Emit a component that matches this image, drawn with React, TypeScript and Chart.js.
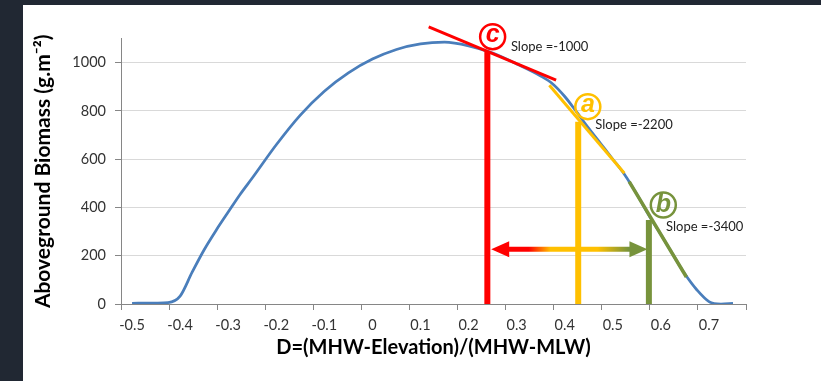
import React, { useEffect, useRef } from 'react';
import { Chart, registerables } from 'chart.js';

Chart.register(...registerables);

// ---- data ----
const xTickLabels = ['-0.5', '-0.4', '-0.3', '-0.2', '-0.1', '0', '0.1', '0.2', '0.3', '0.4', '0.5', '0.6', '0.7'];
const yTickValues = [0, 200, 400, 600, 800, 1000];

const curveD = [-0.5, -0.45, -0.425, -0.4, -0.375, -0.35, -0.325, -0.3, -0.275, -0.25, -0.2, -0.15, -0.1, -0.05, 0, 0.05, 0.1, 0.15, 0.2, 0.25, 0.3, 0.35, 0.375, 0.4, 0.425, 0.45, 0.475, 0.5, 0.525, 0.55, 0.575, 0.6, 0.625, 0.65, 0.675, 0.7, 0.725, 0.75];
const curveBiomass = [3, 4, 6, 33, 132, 225, 306, 381, 455, 522, 660, 783, 882, 958, 1015, 1055, 1078, 1085, 1070, 1040, 995, 945, 912, 860, 795, 728, 664, 600, 535, 455, 368, 288, 205, 124, 58, 10, 0, 3];

const markerLetters = ['c', 'a', 'b'];
const markerD = [0.239, 0.428, 0.575];
const markerTop = [1045, 755, 348];
const circleD = [0.25, 0.448, 0.605];
const circleBiomass = [1108, 818, 410];

const slopeLabels = ['Slope =-1000', 'Slope =-2200', 'Slope =-3400'];
const slopeLabelD = [0.288, 0.4636, 0.6106];
const slopeLabelBiomass = [1065, 742, 320];

const tangentCD = [0.117, 0.382];
const tangentCBiomass = [1149, 928];
const tangentAD = [0.368, 0.524];
const tangentABiomass = [907, 542];
const tangentBD = [0.534, 0.653];
const tangentBBiomass = [507, 112];

const arrowD = [0.247, 0.572];
const arrowBiomass = 227;

// ---- styles ----
const X_MIN = -0.523;
const X_MAX = 0.777;
const Y_MAX = 1100;
const BLUE = '#4a7ebb';
const RED = '#ff0000';
const YELLOW = '#ffc000';
const GREEN = '#77933c';
const AXIS = '#868686';
const GRID = '#d9d9d9';
const FONT = 'Lato, "Open Sans", sans-serif';
const markerColors = [RED, YELLOW, GREEN];

const pts = (xs: number[], ys: number[]) => xs.map((x, i) => ({ x, y: ys[i] }));

const annotationPlugin = {
  id: 'annotations',
  beforeDatasetsDraw(chart: any) {
    const { ctx, scales } = chart;
    const xs = scales.x;
    const ys = scales.y;
    const x0 = xs.getPixelForValue(arrowD[0]);
    const x1 = xs.getPixelForValue(arrowD[1]);
    const yy = ys.getPixelForValue(arrowBiomass);
    const grad = ctx.createLinearGradient(x0, 0, x1, 0);
    grad.addColorStop(0, RED);
    grad.addColorStop(0.24, RED);
    grad.addColorStop(0.38, YELLOW);
    grad.addColorStop(0.68, YELLOW);
    grad.addColorStop(0.88, GREEN);
    grad.addColorStop(1, GREEN);
    const head = 18;
    const half = 8;
    const shaft = 2.6;
    ctx.save();
    ctx.fillStyle = grad;
    ctx.beginPath();
    ctx.moveTo(x0, yy);
    ctx.lineTo(x0 + head, yy - half);
    ctx.lineTo(x0 + head, yy - shaft);
    ctx.lineTo(x1 - head, yy - shaft);
    ctx.lineTo(x1 - head, yy - half);
    ctx.lineTo(x1, yy);
    ctx.lineTo(x1 - head, yy + half);
    ctx.lineTo(x1 - head, yy + shaft);
    ctx.lineTo(x0 + head, yy + shaft);
    ctx.lineTo(x0 + head, yy + half);
    ctx.closePath();
    ctx.fill();
    ctx.restore();
  },
  afterDatasetsDraw(chart: any) {
    const { ctx, scales } = chart;
    const xs = scales.x;
    const ys = scales.y;
    ctx.save();
    markerLetters.forEach((letter, i) => {
      const cx = xs.getPixelForValue(circleD[i]);
      const cy = ys.getPixelForValue(circleBiomass[i]);
      ctx.beginPath();
      ctx.arc(cx, cy, 12.5, 0, Math.PI * 2);
      ctx.lineWidth = 2.5;
      ctx.strokeStyle = markerColors[i];
      ctx.stroke();
      ctx.fillStyle = markerColors[i];
      ctx.font = 'italic bold 25px "Liberation Sans", sans-serif';
      ctx.textAlign = 'center';
      ctx.textBaseline = 'middle';
      ctx.fillText(letter, cx, cy + (letter === 'b' ? 0 : -2));
    });
    slopeLabels.forEach((t, i) => {
      ctx.fillStyle = '#222';
      ctx.font = '13px ' + FONT;
      ctx.textAlign = 'left';
      ctx.textBaseline = 'middle';
      ctx.fillText(t, xs.getPixelForValue(slopeLabelD[i]), ys.getPixelForValue(slopeLabelBiomass[i]));
    });
    ctx.restore();
  },
};

export default function App() {
  const ref = useRef<HTMLCanvasElement>(null);
  useEffect(() => {
    if (!ref.current) return;
    const line = (data: any[], color: string, width: number, order: number, extra: any = {}) => ({
      data,
      showLine: true,
      borderColor: color,
      backgroundColor: color,
      borderWidth: width,
      pointRadius: 0,
      pointHoverRadius: 0,
      borderCapStyle: 'butt',
      order,
      ...extra,
    });
    const chart = new Chart(ref.current, {
      type: 'scatter',
      data: {
        datasets: [
          line([{ x: markerD[0], y: 0 }, { x: markerD[0], y: markerTop[0] }], RED, 6, 1),
          line([{ x: markerD[1], y: 0 }, { x: markerD[1], y: markerTop[1] }], YELLOW, 6, 1),
          line([{ x: markerD[2], y: 0 }, { x: markerD[2], y: markerTop[2] }], GREEN, 6, 1),
          line(pts(tangentCD, tangentCBiomass), RED, 3, 2, { clip: false }),
          line(pts(tangentAD, tangentABiomass), YELLOW, 3, 2),
          line(pts(tangentBD, tangentBBiomass), GREEN, 3.5, 2),
          line(pts(curveD, curveBiomass), BLUE, 2.75, 5, { cubicInterpolationMode: 'monotone' }),
        ],
      },
      options: {
        animation: false,
        responsive: false,
        devicePixelRatio: 1,
        layout: { padding: { top: 33.6, right: 75, left: 0, bottom: 0 } },
        plugins: { legend: { display: false }, tooltip: { enabled: false } },
        events: [],
        scales: {
          x: {
            type: 'linear',
            min: X_MIN,
            max: X_MAX,
            afterBuildTicks: (s: any) => {
              s.ticks = xTickLabels.map((_, i) => ({ value: X_MIN + 0.1 * i })).concat([{ value: X_MAX }]);
            },
            afterFit: (s: any) => {
              s.height = 77;
            },
            ticks: {
              callback: (_v: any, i: number) => xTickLabels[i] ?? '',
              labelOffset: 11,
              padding: 7,
              autoSkip: false,
              maxRotation: 0,
              color: '#333',
              font: { family: FONT, size: 14.5 },
            },
            grid: { drawOnChartArea: false, tickLength: 6, tickColor: AXIS },
            border: { color: AXIS },
            title: {
              display: true,
              text: 'D=(MHW-Elevation)/(MHW-MLW)',
              color: '#000',
              font: { family: FONT, size: 20, weight: 'bold' },
              padding: { top: 0, bottom: 21.7 },
            },
          },
          y: {
            type: 'linear',
            min: 0,
            max: Y_MAX,
            afterBuildTicks: (s: any) => {
              s.ticks = yTickValues.map((v) => ({ value: v }));
            },
            afterFit: (s: any) => {
              s.width = 98;
            },
            ticks: {
              padding: 9,
              color: '#333',
              font: { family: FONT, size: 14.5 },
              callback: (v: any) => String(v),
            },
            grid: { color: GRID, tickColor: AXIS, tickLength: 6 },
            border: { color: AXIS },
            title: {
              display: true,
              text: 'Aboveground Biomass (g.m⁻²)',
              color: '#000',
              font: { family: FONT, size: 21, weight: 'bold' },
              padding: { top: 7.4, bottom: 0 },
            },
          },
        },
      } as any,
      plugins: [annotationPlugin],
    });
    return () => chart.destroy();
  }, []);
  return (
    <div style={{ position: 'fixed', inset: 0, background: '#212833' }}>
      <div style={{ position: 'absolute', left: 23, top: 5, width: 798, height: 376, background: '#fff' }}>
        <canvas ref={ref} width={798} height={376} style={{ display: 'block' }} />
      </div>
    </div>
  );
}
